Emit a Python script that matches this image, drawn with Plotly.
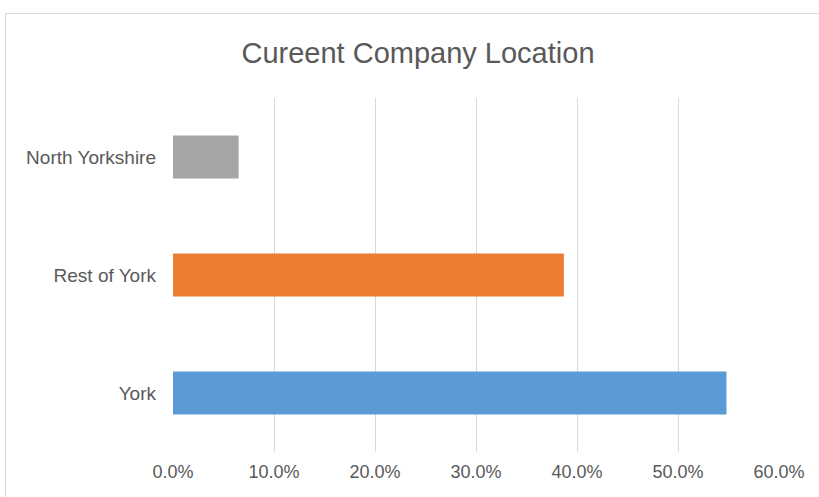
import plotly.graph_objects as go

categories = ["York", "Rest of York", "North Yorkshire"]
values = [0.548, 0.387, 0.065]
bar_colors = ["#5B9BD5", "#ED7D31", "#A5A5A5"]
x_ticks = [0, 0.1, 0.2, 0.3, 0.4, 0.5, 0.6]
x_tick_labels = ["0.0%", "10.0%", "20.0%", "30.0%", "40.0%", "50.0%", "60.0%"]
title_text = "Cureent Company Location"

W, H = 819, 497
L, R, T, B = 173, 40, 98, 45
pw, ph = W - L - R, H - T - B

fig = go.Figure(go.Bar(
    x=values, y=categories, orientation="h",
    marker=dict(color=bar_colors, line=dict(width=0)),
    width=0.365,
))

def px_to_paper_x(px):
    return (px - L) / pw

def px_to_paper_y(py):
    return (H - B - py) / ph

fig.update_layout(
    width=W, height=H,
    margin=dict(l=L, r=R, t=T, b=B),
    paper_bgcolor="white", plot_bgcolor="white",
    showlegend=False,
    title=dict(text=title_text, x=418 / W, xanchor="center", y=1 - 53 / H, yanchor="middle",
               font=dict(family="Liberation Sans, Arial, sans-serif", size=29, color="#595959")),
    font=dict(family="Liberation Sans, Arial, sans-serif", color="#595959", size=18),
    xaxis=dict(range=[0, 0.6], tickvals=x_ticks, ticktext=x_tick_labels,
               showgrid=True, gridcolor="#D9D9D9", gridwidth=1, zeroline=False,
               showline=False, ticks="", ticklabelstandoff=7,
               tickfont=dict(size=18, color="#595959")),
    yaxis=dict(categoryorder="array", categoryarray=categories, range=[-0.5, 2.5],
               showgrid=False, zeroline=False, showline=False, ticks="",
               ticklabelstandoff=16, tickfont=dict(size=19, color="#595959")),
    shapes=[dict(type="rect", xref="paper", yref="paper",
                 x0=px_to_paper_x(5.5), x1=px_to_paper_x(840),
                 y0=px_to_paper_y(520), y1=px_to_paper_y(13.5),
                 line=dict(color="#D9D9D9", width=1), fillcolor="rgba(0,0,0,0)", layer="below")],
)

fig.write_html(
    "out.html",
    config={"displayModeBar": False},
    post_script="document.body.style.margin='0';document.body.style.overflow='hidden';",
)
